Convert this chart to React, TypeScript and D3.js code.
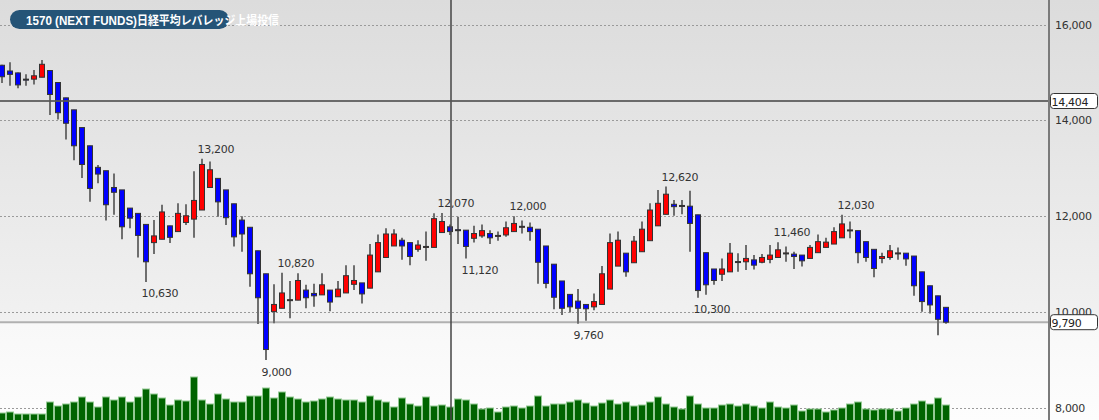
import React from "react";
import * as d3 from "d3";

const W = 1099;
const H = 420;

const opens = [15150,15030,14990,14860,14860,14900,15040,14790,14470,14220,13850,13470,13020,12950,12600,12550,12170,12060,11830,11450,11520,11800,11680,11870,11940,12130,12600,12790,12550,12260,11920,11770,11280,10800,10010,10080,10250,10250,10460,10390,10360,10460,10320,10400,10580,10610,10500,10840,11140,11380,11500,11450,11310,11360,11350,11660,11780,11720,11710,11540,11590,11640,11590,11610,11680,11780,11770,11730,11380,11000,10650,10370,10230,10160,10110,10160,10480,10960,11230,11030,11260,11490,11800,12040,12250,12220,12210,12030,11240,10900,10790,10840,11050,11050,11090,11040,11100,11140,11230,11210,11190,11120,11240,11350,11420,11550,11710,11700,11470,11310,11120,11140,11230,11230,11170,10840,10550,10340,10100];
const highs = [15160,15210,15000,14960,15050,15260,15040,14790,14470,14220,13850,13470,13070,12950,12890,12550,12170,12060,11830,11920,12240,11800,12270,12250,12940,13200,13140,12790,12550,12260,12000,11770,11280,10800,10580,10820,10650,10810,10570,10590,10810,10460,10650,10980,10980,10610,11420,11620,11750,11730,11550,11450,11500,11680,12060,12070,11830,11990,11710,11800,11830,11710,11680,11890,12000,11910,11870,11730,11380,11000,10650,10370,10480,10160,10390,10960,11640,11680,11230,11590,11890,12270,12550,12620,12340,12340,12530,12030,11240,10900,11120,11440,11230,11400,11190,11210,11400,11460,11370,11260,11190,11400,11620,11550,11770,12030,11890,11700,11470,11310,11240,11400,11350,11230,11170,10840,10550,10340,10100];
const lows = [14780,14720,14670,14720,14750,14900,14110,14020,13600,13170,12800,12300,12690,11910,12030,11520,11750,11140,10630,11210,11520,11440,11680,11820,11550,12130,12600,11990,11820,11370,11260,10530,9750,9000,9770,10080,9870,10250,10080,10110,10360,10020,10320,10400,10460,10180,10500,10840,11140,11380,11090,10980,11260,11070,11350,11660,11610,11420,11120,11450,11550,11420,11490,11570,11680,11640,11490,10590,10500,10060,9940,9990,9760,9820,10040,10160,10480,10960,10740,11030,11260,11490,11800,12040,12010,12040,11260,10300,10360,10570,10650,10840,10840,10880,10890,11020,11020,11140,11050,10900,10950,11120,11240,11350,11420,11550,11540,11020,11050,10730,11020,11090,11090,10970,10340,10010,9970,9520,9760];
const closes = [14910,14960,14740,14855,14930,15170,14540,14160,13940,13470,13080,12580,12880,12240,12500,11780,11960,11600,11050,11590,12090,11560,12060,12010,12330,13080,12970,12300,11970,11570,11630,10800,10300,9220,10160,10400,10260,10660,10300,10340,10570,10210,10480,10760,10660,10380,11190,11450,11630,11630,11380,11160,11400,11370,11950,11890,11680,11710,11370,11640,11700,11550,11600,11760,11850,11790,11680,11040,10600,10310,10080,10110,10080,10070,10220,10800,11450,11500,10840,11480,11730,12130,12270,12460,12200,12225,11850,10450,10570,10660,10900,11230,11055,11120,10980,11140,11190,11300,11235,11160,11070,11350,11470,11460,11680,11840,11715,11240,11140,10910,11160,11280,11235,11110,10550,10220,10150,9850,9790];
const volumes = [17,18,16,16,16,16,28,24,26,28,33,28,23,33,30,33,28,33,41,36,32,25,30,29,53,30,26,36,31,28,28,34,34,42,32,38,33,31,28,29,31,33,31,30,30,28,34,30,28,23,32,26,24,33,24,25,23,31,30,26,21,22,18,23,24,22,24,34,24,26,26,28,30,27,24,27,30,26,28,24,25,28,33,26,23,21,34,26,22,22,25,26,24,26,24,22,28,23,22,25,19,21,21,18,20,22,26,28,21,20,21,21,19,22,26,29,26,32,25];

const yTicks = [8000, 10000, 12000, 14000, 16000];
const highLabels = [25, 35, 55, 64, 83, 97, 105];
const lowLabels = [18, 33, 58, 72, 87];
const lastPrice = 9790;
const crossPrice = 14404;
const crossIndex = 56;
const titleCode = "1570 (NEXT FUNDS)";
const titleName = "日経平均レバレッジ上場投信";

const fmt = d3.format(",");
const labelFont = "'DejaVu Sans', Verdana, sans-serif";

export default function App() {
  const n = opens.length;
  const x = d3.scaleLinear().domain([0, n - 1]).range([2, 946]);
  const y = d3.scaleLinear().domain([8000, 16000]).range([408, 24.5]);
  const yv = d3.scaleLinear().domain([0, 60]).range([430, 370]);
  const axisX = 1049;

  return (
    <svg
      width={W}
      height={H}
      style={{ position: "absolute", left: 0, top: 0, display: "block" }}
    >
      <defs>
        <linearGradient id="bg" x1="0" y1="0" x2="0" y2={H} gradientUnits="userSpaceOnUse">
          <stop offset="0" stopColor="#dcdcdc" />
          <stop offset="0.765" stopColor="#f1f1f1" />
          <stop offset="0.77" stopColor="#f8f8f8" />
          <stop offset="1" stopColor="#fdfdfd" />
        </linearGradient>
        <clipPath id="plot">
          <rect x={0} y={0} width={axisX} height={H} />
        </clipPath>
      </defs>
      <rect x={0} y={0} width={W} height={H} fill="url(#bg)" />

      {yTicks.map((t) => (
        <line
          key={"g" + t}
          x1={0}
          x2={axisX - 1}
          y1={Math.round(y(t)) + 0.5}
          y2={Math.round(y(t)) + 0.5}
          stroke="#9a9a9a"
          strokeWidth={1}
          strokeDasharray="2,2"
        />
      ))}

      <line x1={0} x2={axisX} y1={y(lastPrice)} y2={y(lastPrice)} stroke="#b0b0b0" strokeWidth={2} />

      <g clipPath="url(#plot)">
        {volumes.map((v, i) => (
          <rect
            key={"v" + i}
            x={x(i) - 3.5}
            y={yv(v)}
            width={7}
            height={H + 20 - yv(v)}
            fill="#006400"
            stroke="#93c993"
            strokeWidth={1}
          />
        ))}

        {opens.map((o, i) => {
          const c = closes[i];
          const up = c >= o;
          const top = y(Math.max(o, c));
          const bot = y(Math.min(o, c));
          const h = Math.max(bot - top, 1);
          return (
            <g key={"c" + i}>
              <line
                x1={x(i)}
                x2={x(i)}
                y1={y(highs[i])}
                y2={y(lows[i])}
                stroke="#6e6e6e"
                strokeWidth={2}
              />
              <rect
                x={x(i) - 2.5}
                y={top}
                width={5}
                height={h}
                fill={up ? "#ff0000" : "#0000ff"}
                stroke="#333"
                strokeWidth={1}
              />
            </g>
          );
        })}
      </g>

      {highLabels.map((i) => (
        <text
          key={"h" + i}
          x={x(i) - 4.5}
          y={y(highs[i]) - 6}
          fontFamily={labelFont}
          fontSize={11}
          letterSpacing={-0.3}
          fill="#333"
        >
          {fmt(highs[i])}
        </text>
      ))}
      {lowLabels.map((i) => (
        <text
          key={"l" + i}
          x={x(i) - 4.5}
          y={y(lows[i]) + 15.5}
          fontFamily={labelFont}
          fontSize={11}
          letterSpacing={-0.3}
          fill="#333"
        >
          {fmt(lows[i])}
        </text>
      ))}

      <line x1={x(crossIndex) + 1} x2={x(crossIndex) + 1} y1={0} y2={H} stroke="#444" strokeOpacity={0.75} strokeWidth={2} />
      <line x1={0} x2={axisX} y1={y(crossPrice)} y2={y(crossPrice)} stroke="#555" strokeOpacity={0.85} strokeWidth={2} />

      <rect x={10} y={10} width={219} height={19} rx={9.5} fill="#255477" />
      <text
        x={26}
        y={24.5}
        fontSize={12}
        fill="#fff"
        fontFamily="'Liberation Sans', Arial, sans-serif"
        fontWeight="bold"
        textLength={111}
        lengthAdjust="spacingAndGlyphs"
      >
        {titleCode}
      </text>
      <text
        x={137}
        y={24.5}
        fontSize={12}
        fill="#fff"
        fontFamily="'Noto Sans CJK JP', sans-serif"
        fontWeight="bold"
        textLength={142}
        lengthAdjust="spacingAndGlyphs"
      >
        {titleName}
      </text>

      <line x1={axisX} x2={axisX} y1={0} y2={H} stroke="#7a7a7a" strokeWidth={2} />
      {yTicks.map((t) => (
        <text
          key={"t" + t}
          x={1055}
          y={y(t) + 4}
          fontFamily={labelFont}
          fontSize={11}
          letterSpacing={-0.3}
          fill="#333"
        >
          {fmt(t)}
        </text>
      ))}

      {[crossPrice, lastPrice].map((p) => (
        <g key={"p" + p}>
          <rect x={1050.5} y={y(p) - 7.5} width={47} height={15} rx={3} fill="#fff" stroke="#333" strokeWidth={1} />
          <text
            x={1051.5}
            y={y(p) + 4.5}
            fontFamily={labelFont}
            fontSize={11}
            letterSpacing={-0.3}
            fill="#222"
          >
            {fmt(p)}
          </text>
        </g>
      ))}
    </svg>
  );
}
